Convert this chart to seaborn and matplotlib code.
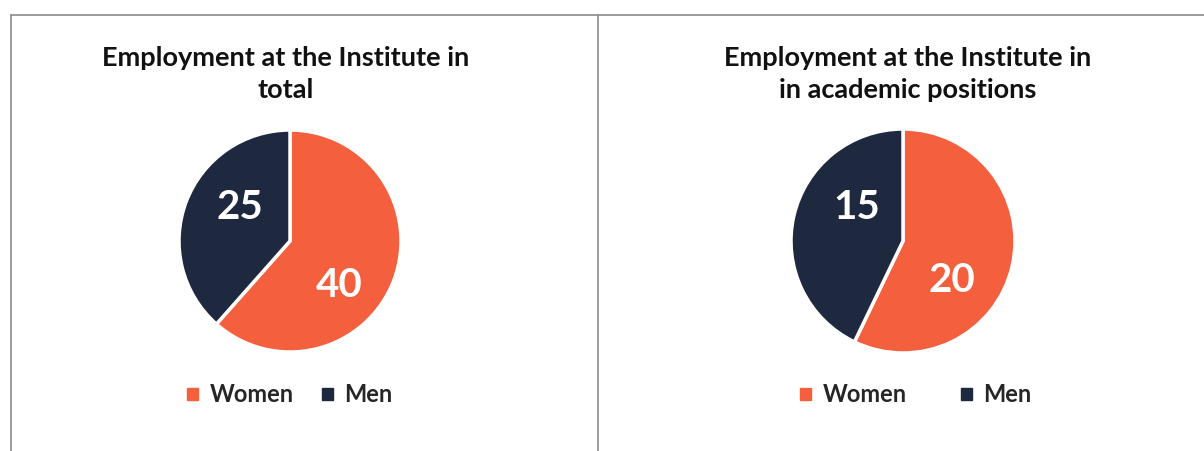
import matplotlib
matplotlib.use("Agg")
import matplotlib.pyplot as plt
import seaborn as sns
import numpy as np
from matplotlib.patches import Rectangle
from matplotlib.lines import Line2D

# ---- data ----
categories = ["Women", "Men"]
total_values = [40, 25]
academic_values = [20, 15]
titles = ["Employment at the Institute in\ntotal",
          "Employment at the Institute in\nin academic positions"]

sns.set_theme(style="white")
plt.rcParams['font.family'] = ['Lato', 'DejaVu Sans']

colors = ["#F4603D", "#1E2940"]
W, H = 1204, 451
fig = plt.figure(figsize=(W / 100, H / 100), dpi=100)
fig.patch.set_facecolor("white")

# panel frames
border = "#8a8a8a"
fig.add_artist(Line2D([11 / W, 11 / W], [0, 1 - 15 / H], color=border, lw=1.2))
fig.add_artist(Line2D([11 / W, 1], [1 - 15 / H, 1 - 15 / H], color=border, lw=1.2))
fig.add_artist(Line2D([598 / W, 598 / W], [0, 1 - 15 / H], color=border, lw=1.2))

panels = [
    dict(values=total_values, title=titles[0], cx=290, cy=241, r=111, tx=286,
         lab=[(-42, 0.60), (146, 0.54)], legx=290, colsp=1.2),
    dict(values=academic_values, title=titles[1], cx=903, cy=241, r=112, tx=908,
         lab=[(-39, 0.56), (144, 0.51)], legx=916, colsp=2.3),
]

for p in panels:
    r = p["r"]
    ax = fig.add_axes([(p["cx"] - r) / W, (H - p["cy"] - r) / H, 2 * r / W, 2 * r / H])
    wedges, _ = ax.pie(p["values"], colors=colors, startangle=90, counterclock=False,
                       wedgeprops=dict(edgecolor="white", linewidth=2.5))
    ax.set_xlim(-1.0, 1.0)
    ax.set_ylim(-1.0, 1.0)
    ax.set_aspect("equal")
    ax.axis("off")
    for v, (ang, rad) in zip(p["values"], p["lab"]):
        a = np.deg2rad(ang)
        ax.text(rad * np.cos(a), rad * np.sin(a), str(v), ha="center", va="center",
                color="white", fontsize=29, fontweight="bold")
    fig.text(p["tx"] / W, 1 - 74 / H, p["title"], ha="center", va="center",
             fontsize=19.5, fontweight="bold", color="#111111", linespacing=1.38)
    handles = [Rectangle((0, 0), 1, 1, color=c) for c in colors]
    fig.legend(handles, categories, loc="center", bbox_to_anchor=(p["legx"] / W, 1 - 395 / H),
               ncol=2, frameon=False, handlelength=0.45, handleheight=0.45,
               handletextpad=0.5, columnspacing=p["colsp"],
               prop=dict(size=17, weight="bold"))

fig.savefig("out.png", dpi=100, facecolor="white")
